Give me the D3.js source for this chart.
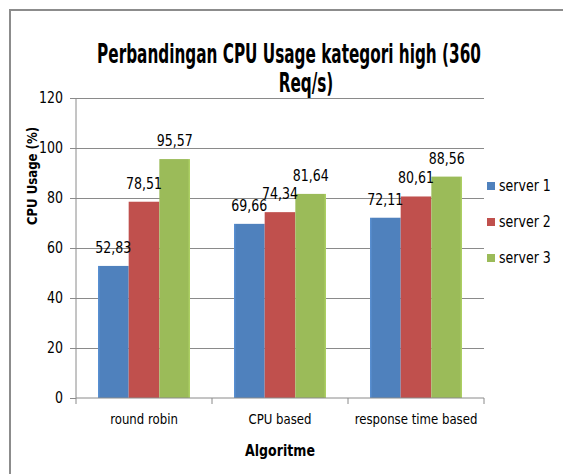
<!DOCTYPE html>
<html>
<head>
<meta charset="utf-8">
<script src="https://cdn.jsdelivr.net/npm/d3@7"></script>
<style>
  body { margin: 0; background: #fff; }
  text { font-family: "DejaVu Sans", sans-serif; fill: #000; }
</style>
</head>
<body>
<script>

var categories = ["round robin", "CPU based", "response time based"];
var series = ["server 1", "server 2", "server 3"];
var server1 = [52.83, 69.66, 72.11];
var server2 = [78.51, 74.34, 80.61];
var server3 = [95.57, 81.64, 88.56];
var yTicks = [0, 20, 40, 60, 80, 100, 120];
var colors = ["#4f81bd", "#c0504d", "#9bbb59"];

var width = 563, height = 474;
var plot = {left: 76, right: 484, top: 98, bottom: 398};
var narrow = 0.84;   // the picture uses a narrow font, squeeze DejaVu horizontally

var values = [server1, server2, server3];

// squeeze text horizontally around its anchor
function squeeze(sel, f) {
    sel.each(function() {
        var t = d3.select(this);
        var x = +t.attr('x') || 0;
        t.attr('x', x / f)
         .attr('transform', (t.attr('transform') || '') + ' scale(' + f + ',1)');
    });
}

let svg = d3.select('body')
    .append('svg')
        .attr('width', width)
        .attr('height', height);

// frame (only top/left edges visible in the picture)
svg.append('rect')
    .attr('x', 10).attr('y', 10)
    .attr('width', width + 20).attr('height', height + 20)
    .attr('fill', 'none')
    .attr('stroke', '#8c8c8c')
    .attr('stroke-width', 2);

var yScale = d3.scaleLinear()
    .domain([0, 120])
    .range([plot.bottom, plot.top]);

var xScale = d3.scaleBand()
    .domain(categories)
    .range([plot.left, plot.right]);

var xInner = d3.scaleBand()
    .domain(series)
    .range([22, xScale.bandwidth() - 22]);

// gridlines
svg.append('g')
    .selectAll('line')
    .data(yTicks.slice(1))
    .enter().append('line')
        .attr('x1', plot.left).attr('x2', plot.right)
        .attr('y1', d => yScale(d)).attr('y2', d => yScale(d))
        .attr('stroke', '#8a8a8a')
        .attr('stroke-width', 1)
        .attr('shape-rendering', 'crispEdges');

// gradients for bars
var defs = svg.append('defs');
colors.forEach(function(c, i) {
    var g = defs.append('linearGradient')
        .attr('id', 'grad' + i)
        .attr('x1', '0%').attr('x2', '100%').attr('y1', '0%').attr('y2', '0%');
    var light = d3.color(c).brighter(0.35);
    g.append('stop').attr('offset', '0%').attr('stop-color', i == 0 ? light : c);
    g.append('stop').attr('offset', '8%').attr('stop-color', c);
    g.append('stop').attr('offset', '92%').attr('stop-color', c);
    g.append('stop').attr('offset', '100%').attr('stop-color', i == 2 ? light : c);
});

// bars
var groups = svg.append('g')
    .selectAll('g')
    .data(categories)
    .enter().append('g')
        .attr('transform', d => 'translate(' + xScale(d) + ',0)');

groups.selectAll('rect')
    .data((d, ci) => series.map((s, si) => ({s: s, si: si, v: values[si][ci]})))
    .enter().append('rect')
        .attr('x', d => xInner(d.s))
        .attr('width', xInner.bandwidth())
        .attr('y', d => yScale(d.v))
        .attr('height', d => plot.bottom - yScale(d.v))
        .attr('fill', d => 'url(#grad' + d.si + ')');

var labels = groups.selectAll('text')
    .data((d, ci) => series.map((s, si) => ({s: s, si: si, v: values[si][ci]})))
    .enter().append('text')
        .attr('x', d => xInner(d.s) + xInner.bandwidth() / 2)
        .attr('y', d => yScale(d.v) - 13)
        .attr('text-anchor', 'middle')
        .style('font-size', '15px')
        .text(d => d.v.toFixed(2).replace('.', ','));
squeeze(labels, narrow);

// y axis
var yAxis = d3.axisLeft()
    .scale(yScale)
    .tickValues(yTicks)
    .tickSize(6)
    .tickPadding(7);

var yg = svg.append('g')
    .attr('class', 'y axis')
    .attr('transform', 'translate(' + plot.left + ',0)')
    .call(yAxis);
yg.selectAll('text').attr('font-size', null).attr('font-family', null).style('font-size', '15px');
squeeze(yg.selectAll('text'), narrow);
yg.selectAll('line, path').attr('stroke', '#8a8a8a');
yg.select('.domain').attr('d', 'M0,' + plot.top + 'V' + plot.bottom);

// x axis
var xAxis = d3.axisBottom()
    .scale(xScale)
    .tickSize(0)
    .tickPadding(16);

var xg = svg.append('g')
    .attr('class', 'x axis')
    .attr('transform', 'translate(0,' + plot.bottom + ')')
    .call(xAxis);
xg.selectAll('text').attr('font-family', null).style('font-size', '14px');
squeeze(xg.selectAll('text'), narrow);
xg.select('.domain').attr('stroke', '#8a8a8a').attr('d', 'M' + plot.left + ',0H' + plot.right);

// category separators ticks
xg.selectAll('.sep')
    .data(categories.concat(['end']))
    .enter().append('line')
        .attr('x1', (d, i) => i < categories.length ? xScale(d) : plot.right)
        .attr('x2', (d, i) => i < categories.length ? xScale(d) : plot.right)
        .attr('y1', 0).attr('y2', 6)
        .attr('stroke', '#8a8a8a');

// axis titles
var xTitle = svg.append('text')
    .attr('x', (plot.left + plot.right) / 2)
    .attr('y', 456)
    .attr('text-anchor', 'middle')
    .style('font-size', '15px')
    .style('font-weight', 'bold')
    .text('Algoritme');
squeeze(xTitle, narrow);

var yTitle = svg.append('text')
    .attr('transform', 'translate(37,176) rotate(-90)')
    .attr('text-anchor', 'middle')
    .style('font-size', '14px')
    .style('font-weight', 'bold')
    .text('CPU Usage (%)');
squeeze(yTitle, narrow);

// title, squeezed to the width it takes in the picture
var title = svg.append('g').style('font-weight', 'bold').style('font-size', '26px');
var t1 = title.append('text')
    .attr('x', 289).attr('y', 63)
    .attr('text-anchor', 'middle')
    .text('Perbandingan CPU Usage kategori high (360');
var t2 = title.append('text')
    .attr('x', 306).attr('y', 92)
    .attr('text-anchor', 'middle')
    .text('Req/s)');
var f = 384 / t1.node().getComputedTextLength();
squeeze(title.selectAll('text'), f);

// legend
var legend = svg.append('g')
    .selectAll('g')
    .data(series)
    .enter().append('g')
        .attr('transform', (d, i) => 'translate(487,' + (182 + i * 36) + ')');
legend.append('rect')
    .attr('width', 8).attr('height', 8)
    .attr('fill', (d, i) => colors[i]);
var legText = legend.append('text')
    .attr('x', 12).attr('y', 9)
    .style('font-size', '15px')
    .text(d => d);
squeeze(legText, narrow);

</script>
</body>
</html>
